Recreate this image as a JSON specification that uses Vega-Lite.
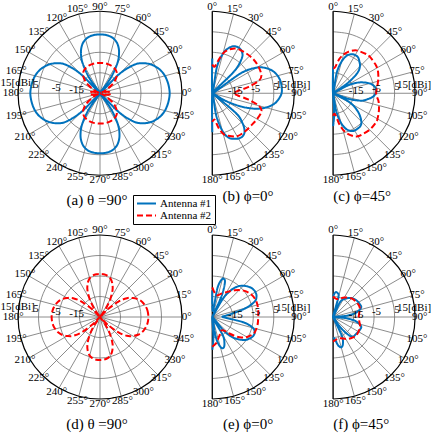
{
"$schema": "https://vega.github.io/schema/vega-lite/v6.json",
"padding": 0,
"background": "white",
"config": {"view": {"stroke": null}, "title": {"font": "Liberation Serif, Times New Roman, serif", "fontSize": 15, "fontWeight": "normal", "color": "black", "orient": "bottom", "anchor": "middle"}, "text": {"font": "Liberation Serif, Times New Roman, serif", "fontSize": 11, "color": "black"}},
"columns": 3,
"align": "each",
"bounds": "flush",
"spacing": {"row": 38.75, "column": 8},
"resolve": {"scale": {"color": "shared", "strokeDash": "shared"}, "legend": {"color": "shared", "strokeDash": "shared"}},
"datasets": {"d": [
{"k":"g","r":-15,"a":0},{"k":"g","r":-15,"a":15},{"k":"g","r":-15,"a":30},{"k":"g","r":-15,"a":45},{"k":"g","r":-15,"a":60},{"k":"g","r":-15,"a":75},{"k":"g","r":-15,"a":90},{"k":"g","r":-15,"a":105},{"k":"g","r":-15,"a":120},{"k":"g","r":-15,"a":135},{"k":"g","r":-15,"a":150},{"k":"g","r":-15,"a":165},{"k":"g","r":-15,"a":180},{"k":"g","r":-15,"a":195},{"k":"g","r":-15,"a":210},{"k":"g","r":-15,"a":225},{"k":"g","r":-15,"a":240},{"k":"g","r":-15,"a":255},{"k":"g","r":-15,"a":270},{"k":"g","r":-15,"a":285},{"k":"g","r":-15,"a":300},{"k":"g","r":-15,"a":315},{"k":"g","r":-15,"a":330},{"k":"g","r":-15,"a":345},
{"k":"g","r":-5,"a":0},{"k":"g","r":-5,"a":15},{"k":"g","r":-5,"a":30},{"k":"g","r":-5,"a":45},{"k":"g","r":-5,"a":60},{"k":"g","r":-5,"a":75},{"k":"g","r":-5,"a":90},{"k":"g","r":-5,"a":105},{"k":"g","r":-5,"a":120},{"k":"g","r":-5,"a":135},{"k":"g","r":-5,"a":150},{"k":"g","r":-5,"a":165},{"k":"g","r":-5,"a":180},{"k":"g","r":-5,"a":195},{"k":"g","r":-5,"a":210},{"k":"g","r":-5,"a":225},{"k":"g","r":-5,"a":240},{"k":"g","r":-5,"a":255},{"k":"g","r":-5,"a":270},{"k":"g","r":-5,"a":285},{"k":"g","r":-5,"a":300},{"k":"g","r":-5,"a":315},{"k":"g","r":-5,"a":330},{"k":"g","r":-5,"a":345},
{"k":"g","r":5,"a":0},{"k":"g","r":5,"a":15},{"k":"g","r":5,"a":30},{"k":"g","r":5,"a":45},{"k":"g","r":5,"a":60},{"k":"g","r":5,"a":75},{"k":"g","r":5,"a":90},{"k":"g","r":5,"a":105},{"k":"g","r":5,"a":120},{"k":"g","r":5,"a":135},{"k":"g","r":5,"a":150},{"k":"g","r":5,"a":165},{"k":"g","r":5,"a":180},{"k":"g","r":5,"a":195},{"k":"g","r":5,"a":210},{"k":"g","r":5,"a":225},{"k":"g","r":5,"a":240},{"k":"g","r":5,"a":255},{"k":"g","r":5,"a":270},{"k":"g","r":5,"a":285},{"k":"g","r":5,"a":300},{"k":"g","r":5,"a":315},{"k":"g","r":5,"a":330},{"k":"g","r":5,"a":345},
{"k":"g","r":15,"a":0},{"k":"g","r":15,"a":15},{"k":"g","r":15,"a":30},{"k":"g","r":15,"a":45},{"k":"g","r":15,"a":60},{"k":"g","r":15,"a":75},{"k":"g","r":15,"a":90},{"k":"g","r":15,"a":105},{"k":"g","r":15,"a":120},{"k":"g","r":15,"a":135},{"k":"g","r":15,"a":150},{"k":"g","r":15,"a":165},{"k":"g","r":15,"a":180},{"k":"g","r":15,"a":195},{"k":"g","r":15,"a":210},{"k":"g","r":15,"a":225},{"k":"g","r":15,"a":240},{"k":"g","r":15,"a":255},{"k":"g","r":15,"a":270},{"k":"g","r":15,"a":285},{"k":"g","r":15,"a":300},{"k":"g","r":15,"a":315},{"k":"g","r":15,"a":330},{"k":"g","r":15,"a":345},
{"k":"t","r":-15,"t":"-15"},{"k":"t","r":-5,"t":"-5"},{"k":"t","r":5,"t":"5"},{"k":"t","r":15,"t":"15[dBi]"},
{"k":"p","p":"a","s":"Antenna #1","a":0,"r":9},{"k":"p","p":"a","s":"Antenna #1","a":5,"r":8.8},{"k":"p","p":"a","s":"Antenna #1","a":10,"r":8.4},{"k":"p","p":"a","s":"Antenna #1","a":15,"r":7.8},{"k":"p","p":"a","s":"Antenna #1","a":20,"r":6.8},{"k":"p","p":"a","s":"Antenna #1","a":25,"r":5.3},{"k":"p","p":"a","s":"Antenna #1","a":30,"r":3.3},{"k":"p","p":"a","s":"Antenna #1","a":35,"r":0.5},{"k":"p","p":"a","s":"Antenna #1","a":40,"r":-3.5},{"k":"p","p":"a","s":"Antenna #1","a":45,"r":-12},{"k":"p","p":"a","s":"Antenna #1","a":50,"r":-25},{"k":"p","p":"a","s":"Antenna #1","a":55,"r":-16},{"k":"p","p":"a","s":"Antenna #1","a":60,"r":-8},{"k":"p","p":"a","s":"Antenna #1","a":65,"r":-3},{"k":"p","p":"a","s":"Antenna #1","a":70,"r":0.3},{"k":"p","p":"a","s":"Antenna #1","a":75,"r":2.2},{"k":"p","p":"a","s":"Antenna #1","a":80,"r":3.2},{"k":"p","p":"a","s":"Antenna #1","a":85,"r":3.6},{"k":"p","p":"a","s":"Antenna #1","a":90,"r":3.7},
{"k":"p","p":"a","s":"Antenna #1","a":95,"r":3.6},{"k":"p","p":"a","s":"Antenna #1","a":100,"r":3.2},{"k":"p","p":"a","s":"Antenna #1","a":105,"r":2.2},{"k":"p","p":"a","s":"Antenna #1","a":110,"r":0.3},{"k":"p","p":"a","s":"Antenna #1","a":115,"r":-3},{"k":"p","p":"a","s":"Antenna #1","a":120,"r":-8},{"k":"p","p":"a","s":"Antenna #1","a":125,"r":-16},{"k":"p","p":"a","s":"Antenna #1","a":130,"r":-25},{"k":"p","p":"a","s":"Antenna #1","a":135,"r":-12},{"k":"p","p":"a","s":"Antenna #1","a":140,"r":-3.5},{"k":"p","p":"a","s":"Antenna #1","a":145,"r":0.5},{"k":"p","p":"a","s":"Antenna #1","a":150,"r":3.3},{"k":"p","p":"a","s":"Antenna #1","a":155,"r":5.3},{"k":"p","p":"a","s":"Antenna #1","a":160,"r":6.8},{"k":"p","p":"a","s":"Antenna #1","a":165,"r":7.8},{"k":"p","p":"a","s":"Antenna #1","a":170,"r":8.4},{"k":"p","p":"a","s":"Antenna #1","a":175,"r":8.8},{"k":"p","p":"a","s":"Antenna #1","a":180,"r":9},
{"k":"p","p":"a","s":"Antenna #1","a":185,"r":8.8},{"k":"p","p":"a","s":"Antenna #1","a":190,"r":8.4},{"k":"p","p":"a","s":"Antenna #1","a":195,"r":7.8},{"k":"p","p":"a","s":"Antenna #1","a":200,"r":6.8},{"k":"p","p":"a","s":"Antenna #1","a":205,"r":5.3},{"k":"p","p":"a","s":"Antenna #1","a":210,"r":3.3},{"k":"p","p":"a","s":"Antenna #1","a":215,"r":0.5},{"k":"p","p":"a","s":"Antenna #1","a":220,"r":-3.5},{"k":"p","p":"a","s":"Antenna #1","a":225,"r":-12},{"k":"p","p":"a","s":"Antenna #1","a":230,"r":-25},{"k":"p","p":"a","s":"Antenna #1","a":235,"r":-15.8},{"k":"p","p":"a","s":"Antenna #1","a":240,"r":-7.6},{"k":"p","p":"a","s":"Antenna #1","a":245,"r":-2.5},{"k":"p","p":"a","s":"Antenna #1","a":250,"r":0.8},{"k":"p","p":"a","s":"Antenna #1","a":255,"r":2.8},{"k":"p","p":"a","s":"Antenna #1","a":260,"r":3.8},{"k":"p","p":"a","s":"Antenna #1","a":265,"r":4.2},{"k":"p","p":"a","s":"Antenna #1","a":270,"r":4.3},
{"k":"p","p":"a","s":"Antenna #1","a":275,"r":4.2},{"k":"p","p":"a","s":"Antenna #1","a":280,"r":3.8},{"k":"p","p":"a","s":"Antenna #1","a":285,"r":2.8},{"k":"p","p":"a","s":"Antenna #1","a":290,"r":0.8},{"k":"p","p":"a","s":"Antenna #1","a":295,"r":-2.5},{"k":"p","p":"a","s":"Antenna #1","a":300,"r":-7.6},{"k":"p","p":"a","s":"Antenna #1","a":305,"r":-15.8},{"k":"p","p":"a","s":"Antenna #1","a":310,"r":-25},{"k":"p","p":"a","s":"Antenna #1","a":315,"r":-12},{"k":"p","p":"a","s":"Antenna #1","a":320,"r":-3.5},{"k":"p","p":"a","s":"Antenna #1","a":325,"r":0.5},{"k":"p","p":"a","s":"Antenna #1","a":330,"r":3.3},{"k":"p","p":"a","s":"Antenna #1","a":335,"r":5.3},{"k":"p","p":"a","s":"Antenna #1","a":340,"r":6.8},{"k":"p","p":"a","s":"Antenna #1","a":345,"r":7.8},{"k":"p","p":"a","s":"Antenna #1","a":350,"r":8.4},{"k":"p","p":"a","s":"Antenna #1","a":355,"r":8.8},
{"k":"p","p":"a","s":"Antenna #2","a":0,"r":-20},{"k":"p","p":"a","s":"Antenna #2","a":5,"r":-20.2},{"k":"p","p":"a","s":"Antenna #2","a":10,"r":-21},{"k":"p","p":"a","s":"Antenna #2","a":15,"r":-22.5},{"k":"p","p":"a","s":"Antenna #2","a":20,"r":-24.5},{"k":"p","p":"a","s":"Antenna #2","a":25,"r":-23},{"k":"p","p":"a","s":"Antenna #2","a":30,"r":-21},{"k":"p","p":"a","s":"Antenna #2","a":35,"r":-18},{"k":"p","p":"a","s":"Antenna #2","a":40,"r":-15.5},{"k":"p","p":"a","s":"Antenna #2","a":45,"r":-13.5},{"k":"p","p":"a","s":"Antenna #2","a":50,"r":-12.2},{"k":"p","p":"a","s":"Antenna #2","a":55,"r":-11.4},{"k":"p","p":"a","s":"Antenna #2","a":60,"r":-10.9},{"k":"p","p":"a","s":"Antenna #2","a":65,"r":-10.6},{"k":"p","p":"a","s":"Antenna #2","a":70,"r":-10.4},{"k":"p","p":"a","s":"Antenna #2","a":75,"r":-10.3},{"k":"p","p":"a","s":"Antenna #2","a":80,"r":-10.2},{"k":"p","p":"a","s":"Antenna #2","a":85,"r":-10.2},{"k":"p","p":"a","s":"Antenna #2","a":90,"r":-10.2},
{"k":"p","p":"a","s":"Antenna #2","a":95,"r":-10.2},{"k":"p","p":"a","s":"Antenna #2","a":100,"r":-10.2},{"k":"p","p":"a","s":"Antenna #2","a":105,"r":-10.3},{"k":"p","p":"a","s":"Antenna #2","a":110,"r":-10.4},{"k":"p","p":"a","s":"Antenna #2","a":115,"r":-10.6},{"k":"p","p":"a","s":"Antenna #2","a":120,"r":-10.9},{"k":"p","p":"a","s":"Antenna #2","a":125,"r":-11.4},{"k":"p","p":"a","s":"Antenna #2","a":130,"r":-12.2},{"k":"p","p":"a","s":"Antenna #2","a":135,"r":-13.5},{"k":"p","p":"a","s":"Antenna #2","a":140,"r":-15.5},{"k":"p","p":"a","s":"Antenna #2","a":145,"r":-18},{"k":"p","p":"a","s":"Antenna #2","a":150,"r":-21},{"k":"p","p":"a","s":"Antenna #2","a":155,"r":-23},{"k":"p","p":"a","s":"Antenna #2","a":160,"r":-24.5},{"k":"p","p":"a","s":"Antenna #2","a":165,"r":-22.5},{"k":"p","p":"a","s":"Antenna #2","a":170,"r":-21},{"k":"p","p":"a","s":"Antenna #2","a":175,"r":-20.2},{"k":"p","p":"a","s":"Antenna #2","a":180,"r":-20},
{"k":"p","p":"a","s":"Antenna #2","a":185,"r":-20.2},{"k":"p","p":"a","s":"Antenna #2","a":190,"r":-21},{"k":"p","p":"a","s":"Antenna #2","a":195,"r":-22.5},{"k":"p","p":"a","s":"Antenna #2","a":200,"r":-24.5},{"k":"p","p":"a","s":"Antenna #2","a":205,"r":-23},{"k":"p","p":"a","s":"Antenna #2","a":210,"r":-21},{"k":"p","p":"a","s":"Antenna #2","a":215,"r":-18},{"k":"p","p":"a","s":"Antenna #2","a":220,"r":-15.5},{"k":"p","p":"a","s":"Antenna #2","a":225,"r":-13.5},{"k":"p","p":"a","s":"Antenna #2","a":230,"r":-12.2},{"k":"p","p":"a","s":"Antenna #2","a":235,"r":-11.4},{"k":"p","p":"a","s":"Antenna #2","a":240,"r":-10.9},{"k":"p","p":"a","s":"Antenna #2","a":245,"r":-10.6},{"k":"p","p":"a","s":"Antenna #2","a":250,"r":-10.4},{"k":"p","p":"a","s":"Antenna #2","a":255,"r":-10.3},{"k":"p","p":"a","s":"Antenna #2","a":260,"r":-10.2},{"k":"p","p":"a","s":"Antenna #2","a":265,"r":-10.2},{"k":"p","p":"a","s":"Antenna #2","a":270,"r":-10.2},
{"k":"p","p":"a","s":"Antenna #2","a":275,"r":-10.2},{"k":"p","p":"a","s":"Antenna #2","a":280,"r":-10.2},{"k":"p","p":"a","s":"Antenna #2","a":285,"r":-10.3},{"k":"p","p":"a","s":"Antenna #2","a":290,"r":-10.4},{"k":"p","p":"a","s":"Antenna #2","a":295,"r":-10.6},{"k":"p","p":"a","s":"Antenna #2","a":300,"r":-10.9},{"k":"p","p":"a","s":"Antenna #2","a":305,"r":-11.4},{"k":"p","p":"a","s":"Antenna #2","a":310,"r":-12.2},{"k":"p","p":"a","s":"Antenna #2","a":315,"r":-13.5},{"k":"p","p":"a","s":"Antenna #2","a":320,"r":-15.5},{"k":"p","p":"a","s":"Antenna #2","a":325,"r":-18},{"k":"p","p":"a","s":"Antenna #2","a":330,"r":-21},{"k":"p","p":"a","s":"Antenna #2","a":335,"r":-23},{"k":"p","p":"a","s":"Antenna #2","a":340,"r":-24.5},{"k":"p","p":"a","s":"Antenna #2","a":345,"r":-22.5},{"k":"p","p":"a","s":"Antenna #2","a":350,"r":-21},{"k":"p","p":"a","s":"Antenna #2","a":355,"r":-20.2},
{"k":"p","p":"d","s":"Antenna #2","a":0,"r":-1.4},{"k":"p","p":"d","s":"Antenna #2","a":5,"r":-1.5},{"k":"p","p":"d","s":"Antenna #2","a":10,"r":-1.8},{"k":"p","p":"d","s":"Antenna #2","a":15,"r":-2.4},{"k":"p","p":"d","s":"Antenna #2","a":20,"r":-3.2},{"k":"p","p":"d","s":"Antenna #2","a":25,"r":-4.5},{"k":"p","p":"d","s":"Antenna #2","a":30,"r":-6.5},{"k":"p","p":"d","s":"Antenna #2","a":35,"r":-9},{"k":"p","p":"d","s":"Antenna #2","a":40,"r":-13.5},{"k":"p","p":"d","s":"Antenna #2","a":45,"r":-20},{"k":"p","p":"d","s":"Antenna #2","a":50,"r":-25},{"k":"p","p":"d","s":"Antenna #2","a":55,"r":-20},{"k":"p","p":"d","s":"Antenna #2","a":60,"r":-15},{"k":"p","p":"d","s":"Antenna #2","a":65,"r":-10.5},{"k":"p","p":"d","s":"Antenna #2","a":70,"r":-7.5},{"k":"p","p":"d","s":"Antenna #2","a":75,"r":-5.5},{"k":"p","p":"d","s":"Antenna #2","a":80,"r":-4.5},{"k":"p","p":"d","s":"Antenna #2","a":85,"r":-4.1},{"k":"p","p":"d","s":"Antenna #2","a":90,"r":-4},
{"k":"p","p":"d","s":"Antenna #2","a":95,"r":-4.1},{"k":"p","p":"d","s":"Antenna #2","a":100,"r":-4.5},{"k":"p","p":"d","s":"Antenna #2","a":105,"r":-5.5},{"k":"p","p":"d","s":"Antenna #2","a":110,"r":-7.5},{"k":"p","p":"d","s":"Antenna #2","a":115,"r":-10.5},{"k":"p","p":"d","s":"Antenna #2","a":120,"r":-15},{"k":"p","p":"d","s":"Antenna #2","a":125,"r":-20},{"k":"p","p":"d","s":"Antenna #2","a":130,"r":-25},{"k":"p","p":"d","s":"Antenna #2","a":135,"r":-20},{"k":"p","p":"d","s":"Antenna #2","a":140,"r":-13.5},{"k":"p","p":"d","s":"Antenna #2","a":145,"r":-9},{"k":"p","p":"d","s":"Antenna #2","a":150,"r":-6.5},{"k":"p","p":"d","s":"Antenna #2","a":155,"r":-4.5},{"k":"p","p":"d","s":"Antenna #2","a":160,"r":-3.2},{"k":"p","p":"d","s":"Antenna #2","a":165,"r":-2.4},{"k":"p","p":"d","s":"Antenna #2","a":170,"r":-1.8},{"k":"p","p":"d","s":"Antenna #2","a":175,"r":-1.5},{"k":"p","p":"d","s":"Antenna #2","a":180,"r":-1.4},
{"k":"p","p":"d","s":"Antenna #2","a":185,"r":-1.5},{"k":"p","p":"d","s":"Antenna #2","a":190,"r":-1.8},{"k":"p","p":"d","s":"Antenna #2","a":195,"r":-2.4},{"k":"p","p":"d","s":"Antenna #2","a":200,"r":-3.2},{"k":"p","p":"d","s":"Antenna #2","a":205,"r":-4.5},{"k":"p","p":"d","s":"Antenna #2","a":210,"r":-6.5},{"k":"p","p":"d","s":"Antenna #2","a":215,"r":-9},{"k":"p","p":"d","s":"Antenna #2","a":220,"r":-13.5},{"k":"p","p":"d","s":"Antenna #2","a":225,"r":-20},{"k":"p","p":"d","s":"Antenna #2","a":230,"r":-25},{"k":"p","p":"d","s":"Antenna #2","a":235,"r":-20},{"k":"p","p":"d","s":"Antenna #2","a":240,"r":-15},{"k":"p","p":"d","s":"Antenna #2","a":245,"r":-10.5},{"k":"p","p":"d","s":"Antenna #2","a":250,"r":-7.5},{"k":"p","p":"d","s":"Antenna #2","a":255,"r":-5.5},{"k":"p","p":"d","s":"Antenna #2","a":260,"r":-4.5},{"k":"p","p":"d","s":"Antenna #2","a":265,"r":-4.1},{"k":"p","p":"d","s":"Antenna #2","a":270,"r":-4},
{"k":"p","p":"d","s":"Antenna #2","a":275,"r":-4.1},{"k":"p","p":"d","s":"Antenna #2","a":280,"r":-4.5},{"k":"p","p":"d","s":"Antenna #2","a":285,"r":-5.5},{"k":"p","p":"d","s":"Antenna #2","a":290,"r":-7.5},{"k":"p","p":"d","s":"Antenna #2","a":295,"r":-10.5},{"k":"p","p":"d","s":"Antenna #2","a":300,"r":-15},{"k":"p","p":"d","s":"Antenna #2","a":305,"r":-20},{"k":"p","p":"d","s":"Antenna #2","a":310,"r":-25},{"k":"p","p":"d","s":"Antenna #2","a":315,"r":-20},{"k":"p","p":"d","s":"Antenna #2","a":320,"r":-13.5},{"k":"p","p":"d","s":"Antenna #2","a":325,"r":-9},{"k":"p","p":"d","s":"Antenna #2","a":330,"r":-6.5},{"k":"p","p":"d","s":"Antenna #2","a":335,"r":-4.5},{"k":"p","p":"d","s":"Antenna #2","a":340,"r":-3.2},{"k":"p","p":"d","s":"Antenna #2","a":345,"r":-2.4},{"k":"p","p":"d","s":"Antenna #2","a":350,"r":-1.8},{"k":"p","p":"d","s":"Antenna #2","a":355,"r":-1.5},
{"k":"p","p":"b","s":"Antenna #1","a":0,"r":-8},{"k":"p","p":"b","s":"Antenna #1","a":5,"r":-25},{"k":"p","p":"b","s":"Antenna #1","a":10,"r":-12},{"k":"p","p":"b","s":"Antenna #1","a":15,"r":-5},{"k":"p","p":"b","s":"Antenna #1","a":20,"r":-1.5},{"k":"p","p":"b","s":"Antenna #1","a":25,"r":0.3},{"k":"p","p":"b","s":"Antenna #1","a":30,"r":0.7},{"k":"p","p":"b","s":"Antenna #1","a":35,"r":0},{"k":"p","p":"b","s":"Antenna #1","a":40,"r":-2.5},{"k":"p","p":"b","s":"Antenna #1","a":45,"r":-10},{"k":"p","p":"b","s":"Antenna #1","a":50,"r":-25},{"k":"p","p":"b","s":"Antenna #1","a":55,"r":-8},{"k":"p","p":"b","s":"Antenna #1","a":60,"r":0},{"k":"p","p":"b","s":"Antenna #1","a":65,"r":4},{"k":"p","p":"b","s":"Antenna #1","a":70,"r":6.5},{"k":"p","p":"b","s":"Antenna #1","a":75,"r":8},{"k":"p","p":"b","s":"Antenna #1","a":80,"r":8.8},{"k":"p","p":"b","s":"Antenna #1","a":85,"r":9},{"k":"p","p":"b","s":"Antenna #1","a":90,"r":8.8},{"k":"p","p":"b","s":"Antenna #1","a":95,"r":7.5},{"k":"p","p":"b","s":"Antenna #1","a":100,"r":5.5},{"k":"p","p":"b","s":"Antenna #1","a":105,"r":2},{"k":"p","p":"b","s":"Antenna #1","a":110,"r":-3},{"k":"p","p":"b","s":"Antenna #1","a":115,"r":-10},{"k":"p","p":"b","s":"Antenna #1","a":120,"r":-18},{"k":"p","p":"b","s":"Antenna #1","a":125,"r":-25},{"k":"p","p":"b","s":"Antenna #1","a":130,"r":-10},{"k":"p","p":"b","s":"Antenna #1","a":135,"r":-4},{"k":"p","p":"b","s":"Antenna #1","a":140,"r":-0.5},{"k":"p","p":"b","s":"Antenna #1","a":145,"r":0.7},{"k":"p","p":"b","s":"Antenna #1","a":150,"r":0.5},{"k":"p","p":"b","s":"Antenna #1","a":155,"r":-0.5},{"k":"p","p":"b","s":"Antenna #1","a":160,"r":-2},{"k":"p","p":"b","s":"Antenna #1","a":165,"r":-6},{"k":"p","p":"b","s":"Antenna #1","a":170,"r":-14},{"k":"p","p":"b","s":"Antenna #1","a":175,"r":-25},{"k":"p","p":"b","s":"Antenna #1","a":180,"r":-6},
{"k":"p","p":"b","s":"Antenna #2","a":0,"r":-11},{"k":"p","p":"b","s":"Antenna #2","a":5,"r":-12},{"k":"p","p":"b","s":"Antenna #2","a":10,"r":-9},{"k":"p","p":"b","s":"Antenna #2","a":15,"r":-5},{"k":"p","p":"b","s":"Antenna #2","a":20,"r":-2.5},{"k":"p","p":"b","s":"Antenna #2","a":25,"r":-1},{"k":"p","p":"b","s":"Antenna #2","a":30,"r":0},{"k":"p","p":"b","s":"Antenna #2","a":40,"r":0.5},{"k":"p","p":"b","s":"Antenna #2","a":50,"r":1},{"k":"p","p":"b","s":"Antenna #2","a":60,"r":1},{"k":"p","p":"b","s":"Antenna #2","a":70,"r":0.5},{"k":"p","p":"b","s":"Antenna #2","a":75,"r":-1.5},{"k":"p","p":"b","s":"Antenna #2","a":80,"r":-7},{"k":"p","p":"b","s":"Antenna #2","a":85,"r":-12.5},{"k":"p","p":"b","s":"Antenna #2","a":90,"r":-14.5},{"k":"p","p":"b","s":"Antenna #2","a":95,"r":-12.5},{"k":"p","p":"b","s":"Antenna #2","a":100,"r":-7},{"k":"p","p":"b","s":"Antenna #2","a":105,"r":-1.5},{"k":"p","p":"b","s":"Antenna #2","a":110,"r":0.6},{"k":"p","p":"b","s":"Antenna #2","a":120,"r":0.2},{"k":"p","p":"b","s":"Antenna #2","a":130,"r":-0.4},{"k":"p","p":"b","s":"Antenna #2","a":140,"r":-0.5},{"k":"p","p":"b","s":"Antenna #2","a":150,"r":-0.8},{"k":"p","p":"b","s":"Antenna #2","a":160,"r":-3},{"k":"p","p":"b","s":"Antenna #2","a":165,"r":-4.5},{"k":"p","p":"b","s":"Antenna #2","a":170,"r":-8},{"k":"p","p":"b","s":"Antenna #2","a":175,"r":-12},{"k":"p","p":"b","s":"Antenna #2","a":180,"r":-11},
{"k":"p","p":"c","s":"Antenna #1","a":0,"r":-12},{"k":"p","p":"c","s":"Antenna #1","a":5,"r":-25},{"k":"p","p":"c","s":"Antenna #1","a":10,"r":-15},{"k":"p","p":"c","s":"Antenna #1","a":15,"r":-9},{"k":"p","p":"c","s":"Antenna #1","a":20,"r":-5.5},{"k":"p","p":"c","s":"Antenna #1","a":25,"r":-4},{"k":"p","p":"c","s":"Antenna #1","a":30,"r":-3.5},{"k":"p","p":"c","s":"Antenna #1","a":35,"r":-3.7},{"k":"p","p":"c","s":"Antenna #1","a":40,"r":-5},{"k":"p","p":"c","s":"Antenna #1","a":45,"r":-6.5},{"k":"p","p":"c","s":"Antenna #1","a":50,"r":-9.5},{"k":"p","p":"c","s":"Antenna #1","a":55,"r":-16},{"k":"p","p":"c","s":"Antenna #1","a":58,"r":-25},{"k":"p","p":"c","s":"Antenna #1","a":62,"r":-17},{"k":"p","p":"c","s":"Antenna #1","a":66,"r":-12.5},{"k":"p","p":"c","s":"Antenna #1","a":70,"r":-9.5},{"k":"p","p":"c","s":"Antenna #1","a":75,"r":-6.5},{"k":"p","p":"c","s":"Antenna #1","a":80,"r":-4.7},{"k":"p","p":"c","s":"Antenna #1","a":85,"r":-4},{"k":"p","p":"c","s":"Antenna #1","a":90,"r":-4.2},{"k":"p","p":"c","s":"Antenna #1","a":95,"r":-5.5},{"k":"p","p":"c","s":"Antenna #1","a":100,"r":-8},{"k":"p","p":"c","s":"Antenna #1","a":105,"r":-11},{"k":"p","p":"c","s":"Antenna #1","a":110,"r":-17},{"k":"p","p":"c","s":"Antenna #1","a":114,"r":-25},{"k":"p","p":"c","s":"Antenna #1","a":118,"r":-17},{"k":"p","p":"c","s":"Antenna #1","a":122,"r":-13},{"k":"p","p":"c","s":"Antenna #1","a":128,"r":-9},{"k":"p","p":"c","s":"Antenna #1","a":135,"r":-5.5},{"k":"p","p":"c","s":"Antenna #1","a":140,"r":-4.2},{"k":"p","p":"c","s":"Antenna #1","a":145,"r":-4},{"k":"p","p":"c","s":"Antenna #1","a":150,"r":-4},{"k":"p","p":"c","s":"Antenna #1","a":155,"r":-4.7},{"k":"p","p":"c","s":"Antenna #1","a":160,"r":-6.5},{"k":"p","p":"c","s":"Antenna #1","a":165,"r":-10},{"k":"p","p":"c","s":"Antenna #1","a":170,"r":-16},{"k":"p","p":"c","s":"Antenna #1","a":174,"r":-25},{"k":"p","p":"c","s":"Antenna #1","a":177,"r":-15},{"k":"p","p":"c","s":"Antenna #1","a":180,"r":-9},
{"k":"p","p":"c","s":"Antenna #2","a":0,"r":-13},{"k":"p","p":"c","s":"Antenna #2","a":5,"r":-12},{"k":"p","p":"c","s":"Antenna #2","a":10,"r":-8.2},{"k":"p","p":"c","s":"Antenna #2","a":15,"r":-5.5},{"k":"p","p":"c","s":"Antenna #2","a":20,"r":-3.5},{"k":"p","p":"c","s":"Antenna #2","a":25,"r":-2},{"k":"p","p":"c","s":"Antenna #2","a":30,"r":-1},{"k":"p","p":"c","s":"Antenna #2","a":40,"r":0},{"k":"p","p":"c","s":"Antenna #2","a":45,"r":0.3},{"k":"p","p":"c","s":"Antenna #2","a":55,"r":0},{"k":"p","p":"c","s":"Antenna #2","a":62,"r":-0.4},{"k":"p","p":"c","s":"Antenna #2","a":70,"r":-1.5},{"k":"p","p":"c","s":"Antenna #2","a":80,"r":-3},{"k":"p","p":"c","s":"Antenna #2","a":85,"r":-3.7},{"k":"p","p":"c","s":"Antenna #2","a":90,"r":-4},{"k":"p","p":"c","s":"Antenna #2","a":95,"r":-3.5},{"k":"p","p":"c","s":"Antenna #2","a":100,"r":-2.5},{"k":"p","p":"c","s":"Antenna #2","a":110,"r":-1.2},{"k":"p","p":"c","s":"Antenna #2","a":120,"r":0},{"k":"p","p":"c","s":"Antenna #2","a":125,"r":0.3},{"k":"p","p":"c","s":"Antenna #2","a":135,"r":0.2},{"k":"p","p":"c","s":"Antenna #2","a":145,"r":-0.4},{"k":"p","p":"c","s":"Antenna #2","a":150,"r":-0.8},{"k":"p","p":"c","s":"Antenna #2","a":155,"r":-2},{"k":"p","p":"c","s":"Antenna #2","a":162,"r":-4.8},{"k":"p","p":"c","s":"Antenna #2","a":168,"r":-9},{"k":"p","p":"c","s":"Antenna #2","a":173,"r":-14},{"k":"p","p":"c","s":"Antenna #2","a":177,"r":-15},{"k":"p","p":"c","s":"Antenna #2","a":180,"r":-14},
{"k":"p","p":"e","s":"Antenna #1","a":0,"r":-12},{"k":"p","p":"e","s":"Antenna #1","a":5,"r":-22},{"k":"p","p":"e","s":"Antenna #1","a":10,"r":-11},{"k":"p","p":"e","s":"Antenna #1","a":13,"r":-7},{"k":"p","p":"e","s":"Antenna #1","a":16,"r":-5.5},{"k":"p","p":"e","s":"Antenna #1","a":20,"r":-7},{"k":"p","p":"e","s":"Antenna #1","a":24,"r":-14},{"k":"p","p":"e","s":"Antenna #1","a":27,"r":-25},{"k":"p","p":"e","s":"Antenna #1","a":30,"r":-15},{"k":"p","p":"e","s":"Antenna #1","a":35,"r":-9},{"k":"p","p":"e","s":"Antenna #1","a":40,"r":-5.5},{"k":"p","p":"e","s":"Antenna #1","a":45,"r":-3.5},{"k":"p","p":"e","s":"Antenna #1","a":50,"r":-2},{"k":"p","p":"e","s":"Antenna #1","a":55,"r":-1},{"k":"p","p":"e","s":"Antenna #1","a":60,"r":-0.7},{"k":"p","p":"e","s":"Antenna #1","a":65,"r":-1.2},{"k":"p","p":"e","s":"Antenna #1","a":70,"r":-3},{"k":"p","p":"e","s":"Antenna #1","a":75,"r":-8},{"k":"p","p":"e","s":"Antenna #1","a":80,"r":-15},{"k":"p","p":"e","s":"Antenna #1","a":85,"r":-19},{"k":"p","p":"e","s":"Antenna #1","a":90,"r":-20},{"k":"p","p":"e","s":"Antenna #1","a":95,"r":-17},{"k":"p","p":"e","s":"Antenna #1","a":100,"r":-9},{"k":"p","p":"e","s":"Antenna #1","a":105,"r":-4.5},{"k":"p","p":"e","s":"Antenna #1","a":110,"r":-3},{"k":"p","p":"e","s":"Antenna #1","a":115,"r":-3},{"k":"p","p":"e","s":"Antenna #1","a":120,"r":-4},{"k":"p","p":"e","s":"Antenna #1","a":125,"r":-5.5},{"k":"p","p":"e","s":"Antenna #1","a":130,"r":-8},{"k":"p","p":"e","s":"Antenna #1","a":135,"r":-11},{"k":"p","p":"e","s":"Antenna #1","a":140,"r":-16},{"k":"p","p":"e","s":"Antenna #1","a":145,"r":-25},{"k":"p","p":"e","s":"Antenna #1","a":150,"r":-15},{"k":"p","p":"e","s":"Antenna #1","a":155,"r":-11},{"k":"p","p":"e","s":"Antenna #1","a":160,"r":-9},{"k":"p","p":"e","s":"Antenna #1","a":165,"r":-10},{"k":"p","p":"e","s":"Antenna #1","a":170,"r":-15},{"k":"p","p":"e","s":"Antenna #1","a":174,"r":-25},{"k":"p","p":"e","s":"Antenna #1","a":177,"r":-15},{"k":"p","p":"e","s":"Antenna #1","a":180,"r":-9},
{"k":"p","p":"e","s":"Antenna #2","a":0,"r":-10.5},{"k":"p","p":"e","s":"Antenna #2","a":5,"r":-13},{"k":"p","p":"e","s":"Antenna #2","a":10,"r":-14},{"k":"p","p":"e","s":"Antenna #2","a":15,"r":-14},{"k":"p","p":"e","s":"Antenna #2","a":20,"r":-13},{"k":"p","p":"e","s":"Antenna #2","a":30,"r":-11},{"k":"p","p":"e","s":"Antenna #2","a":40,"r":-8},{"k":"p","p":"e","s":"Antenna #2","a":50,"r":-5},{"k":"p","p":"e","s":"Antenna #2","a":60,"r":-3},{"k":"p","p":"e","s":"Antenna #2","a":70,"r":-2.2},{"k":"p","p":"e","s":"Antenna #2","a":80,"r":-2.3},{"k":"p","p":"e","s":"Antenna #2","a":90,"r":-2.6},{"k":"p","p":"e","s":"Antenna #2","a":100,"r":-2.6},{"k":"p","p":"e","s":"Antenna #2","a":110,"r":-3},{"k":"p","p":"e","s":"Antenna #2","a":115,"r":-4},{"k":"p","p":"e","s":"Antenna #2","a":120,"r":-5.5},{"k":"p","p":"e","s":"Antenna #2","a":125,"r":-7.5},{"k":"p","p":"e","s":"Antenna #2","a":130,"r":-10.5},{"k":"p","p":"e","s":"Antenna #2","a":135,"r":-14},{"k":"p","p":"e","s":"Antenna #2","a":140,"r":-16.5},{"k":"p","p":"e","s":"Antenna #2","a":148,"r":-17},{"k":"p","p":"e","s":"Antenna #2","a":155,"r":-16},{"k":"p","p":"e","s":"Antenna #2","a":165,"r":-14},{"k":"p","p":"e","s":"Antenna #2","a":172,"r":-12},{"k":"p","p":"e","s":"Antenna #2","a":180,"r":-10.5},
{"k":"p","p":"f","s":"Antenna #1","a":0,"r":-15},{"k":"p","p":"f","s":"Antenna #1","a":5,"r":-13},{"k":"p","p":"f","s":"Antenna #1","a":10,"r":-13},{"k":"p","p":"f","s":"Antenna #1","a":15,"r":-15},{"k":"p","p":"f","s":"Antenna #1","a":20,"r":-25},{"k":"p","p":"f","s":"Antenna #1","a":25,"r":-17},{"k":"p","p":"f","s":"Antenna #1","a":35,"r":-14},{"k":"p","p":"f","s":"Antenna #1","a":45,"r":-12},{"k":"p","p":"f","s":"Antenna #1","a":55,"r":-11},{"k":"p","p":"f","s":"Antenna #1","a":65,"r":-10.5},{"k":"p","p":"f","s":"Antenna #1","a":72,"r":-10.7},{"k":"p","p":"f","s":"Antenna #1","a":80,"r":-14},{"k":"p","p":"f","s":"Antenna #1","a":85,"r":-19},{"k":"p","p":"f","s":"Antenna #1","a":90,"r":-25},{"k":"p","p":"f","s":"Antenna #1","a":95,"r":-19},{"k":"p","p":"f","s":"Antenna #1","a":100,"r":-14},{"k":"p","p":"f","s":"Antenna #1","a":108,"r":-10.7},{"k":"p","p":"f","s":"Antenna #1","a":115,"r":-10.5},{"k":"p","p":"f","s":"Antenna #1","a":125,"r":-11},{"k":"p","p":"f","s":"Antenna #1","a":135,"r":-11.5},{"k":"p","p":"f","s":"Antenna #1","a":140,"r":-14},{"k":"p","p":"f","s":"Antenna #1","a":145,"r":-19},{"k":"p","p":"f","s":"Antenna #1","a":150,"r":-25},{"k":"p","p":"f","s":"Antenna #1","a":155,"r":-15},{"k":"p","p":"f","s":"Antenna #1","a":160,"r":-11},{"k":"p","p":"f","s":"Antenna #1","a":165,"r":-9.7},{"k":"p","p":"f","s":"Antenna #1","a":170,"r":-11},{"k":"p","p":"f","s":"Antenna #1","a":175,"r":-14},{"k":"p","p":"f","s":"Antenna #1","a":180,"r":-15},
{"k":"p","p":"f","s":"Antenna #2","a":0,"r":-15},{"k":"p","p":"f","s":"Antenna #2","a":10,"r":-16},{"k":"p","p":"f","s":"Antenna #2","a":20,"r":-15.5},{"k":"p","p":"f","s":"Antenna #2","a":30,"r":-14},{"k":"p","p":"f","s":"Antenna #2","a":45,"r":-12.2},{"k":"p","p":"f","s":"Antenna #2","a":60,"r":-11.4},{"k":"p","p":"f","s":"Antenna #2","a":70,"r":-11.2},{"k":"p","p":"f","s":"Antenna #2","a":80,"r":-12},{"k":"p","p":"f","s":"Antenna #2","a":90,"r":-12.5},{"k":"p","p":"f","s":"Antenna #2","a":100,"r":-12},{"k":"p","p":"f","s":"Antenna #2","a":110,"r":-11},{"k":"p","p":"f","s":"Antenna #2","a":120,"r":-10.7},{"k":"p","p":"f","s":"Antenna #2","a":130,"r":-10.6},{"k":"p","p":"f","s":"Antenna #2","a":140,"r":-11.5},{"k":"p","p":"f","s":"Antenna #2","a":150,"r":-12.6},{"k":"p","p":"f","s":"Antenna #2","a":160,"r":-14},{"k":"p","p":"f","s":"Antenna #2","a":170,"r":-14},{"k":"p","p":"f","s":"Antenna #2","a":180,"r":-13}
]},
"concat": [
{"width": 200, "height": 184.5, "title": {"text": "(a) θ =90°", "offset": 7, "dx": -3},
 "data": {"name": "d"},
 "transform": [{"filter": "datum.k != 'p' || datum.p == 'a'"}, {"calculate": "datum.k == 't' ? (datum.r == 15 ? 40.5 : datum.r + 26.5) : max(0, datum.r + 25)", "as": "rho"}, {"calculate": "(datum.k == 't' ? 173 : datum.a) * PI / 180", "as": "th"}, {"calculate": "datum.rho * cos(datum.th)", "as": "x"}, {"calculate": "datum.rho * sin(datum.th)", "as": "y"}, {"calculate": "42.3 * cos(datum.th)", "as": "lx"}, {"calculate": "42.3 * sin(datum.th)", "as": "ly"}, {"calculate": "datum.a + '°'", "as": "lbl"}],
 "encoding": {"x": {"field": "x", "type": "quantitative", "scale": {"domain": [-48.8, 48.8]}, "axis": null}, "y": {"field": "y", "type": "quantitative", "scale": {"domain": [-45, 45]}, "axis": null}},
 "layer": [
  {"transform": [{"filter": "datum.k == 'g' && datum.r < 15"}], "mark": {"type": "line", "interpolate": "cardinal-closed", "stroke": "#6e6e6e", "strokeWidth": 0.8}, "encoding": {"detail": {"field": "r", "type": "nominal"}, "order": {"field": "a", "type": "quantitative"}}},
  {"transform": [{"filter": "datum.k == 'g' && datum.r == 15"}], "mark": {"type": "rule", "stroke": "#6e6e6e", "strokeWidth": 0.8}, "encoding": {"x2": {"datum": 0}, "y2": {"datum": 0}}},
  {"transform": [{"filter": "datum.k == 'g' && datum.r == 15"}], "mark": {"type": "line", "interpolate": "cardinal-closed", "stroke": "black", "strokeWidth": 1.2}, "encoding": {"order": {"field": "a", "type": "quantitative"}}},
  {"transform": [{"filter": "datum.k == 'p'"}], "mark": {"type": "line", "interpolate": "cardinal-closed", "strokeWidth": 2}, "encoding": {"order": {"field": "a", "type": "quantitative"},
    "color": {"field": "s", "type": "nominal", "scale": {"domain": ["Antenna #1", "Antenna #2"], "range": ["#0072BD", "#FF0000"]}, "legend": {"title": null, "orient": "none", "legendX": 133, "legendY": 194, "direction": "vertical", "strokeColor": "black", "fillColor": "white", "padding": 3, "symbolType": "stroke", "symbolStrokeWidth": 2, "symbolSize": 361, "clipHeight": 11, "labelFont": "Liberation Serif, Times New Roman, serif", "labelFontSize": 11, "labelColor": "black", "rowPadding": 0, "labelOffset": 3, "cornerRadius": 0}},
    "strokeDash": {"field": "s", "type": "nominal", "scale": {"domain": ["Antenna #1", "Antenna #2"], "range": [[1, 0], [6, 3]]}, "legend": {"title": null, "orient": "none", "legendX": 133, "legendY": 194, "direction": "vertical", "strokeColor": "black", "fillColor": "white", "padding": 3, "symbolType": "stroke", "symbolStrokeWidth": 2, "symbolSize": 361, "clipHeight": 11, "labelFont": "Liberation Serif, Times New Roman, serif", "labelFontSize": 11, "labelColor": "black", "rowPadding": 0, "labelOffset": 3, "cornerRadius": 0}}}},
  {"transform": [{"filter": "datum.k == 'g' && datum.r == 15"}], "mark": {"type": "text", "align": "center", "baseline": "middle"}, "encoding": {"x": {"field": "lx", "type": "quantitative", "scale": {"domain": [-48.8, 48.8]}, "axis": null}, "y": {"field": "ly", "type": "quantitative", "scale": {"domain": [-45, 45]}, "axis": null}, "text": {"field": "lbl", "type": "nominal"}}},
  {"transform": [{"filter": "datum.k == 't'"}], "mark": {"type": "text", "align": "center", "baseline": "middle"}, "encoding": {"text": {"field": "t", "type": "nominal"}}}
 ]},
{"width": 112.1, "height": 184.5, "title": {"text": "(b) ϕ=0°", "offset": 3, "dx": -16},
 "data": {"name": "d"},
 "transform": [{"filter": "(datum.k == 'g' && datum.a <= 180) || datum.k == 't' || datum.p == 'b'"}, {"calculate": "datum.k == 't' ? (datum.r == 15 ? 39.7 : datum.r + 26.3) : max(0, datum.r + 25)", "as": "rho"}, {"calculate": "(datum.k == 't' ? 84 : datum.a) * PI / 180", "as": "th"}, {"calculate": "datum.rho * sin(datum.th)", "as": "x"}, {"calculate": "datum.rho * cos(datum.th)", "as": "y"}, {"calculate": "42.3 * sin(datum.th)", "as": "lx"}, {"calculate": "42.3 * cos(datum.th)", "as": "ly"}, {"calculate": "datum.a + '°'", "as": "lbl"}],
 "encoding": {"x": {"field": "x", "type": "quantitative", "scale": {"domain": [-2.1, 52.6]}, "axis": null}, "y": {"field": "y", "type": "quantitative", "scale": {"domain": [-45, 45]}, "axis": null}},
 "layer": [
  {"transform": [{"filter": "datum.k == 'g' && datum.r < 15"}], "mark": {"type": "line", "interpolate": "cardinal", "stroke": "#6e6e6e", "strokeWidth": 0.8}, "encoding": {"detail": {"field": "r", "type": "nominal"}, "order": {"field": "a", "type": "quantitative"}}},
  {"transform": [{"filter": "datum.k == 'g' && datum.r == 15"}], "mark": {"type": "rule", "stroke": "#6e6e6e", "strokeWidth": 0.8}, "encoding": {"x2": {"datum": 0}, "y2": {"datum": 0}}},
  {"transform": [{"filter": "datum.k == 'g' && datum.r == 15"}], "mark": {"type": "line", "interpolate": "cardinal", "stroke": "black", "strokeWidth": 1.2}, "encoding": {"order": {"field": "a", "type": "quantitative"}}},
  {"transform": [{"filter": "datum.k == 'g' && datum.r == 15 && (datum.a == 0 || datum.a == 180)"}], "mark": {"type": "line", "stroke": "black", "strokeWidth": 1.2}, "encoding": {"order": {"field": "a", "type": "quantitative"}}},
  {"transform": [{"filter": "datum.k == 'p'"}], "mark": {"type": "line", "interpolate": "cardinal", "strokeWidth": 2}, "encoding": {"order": {"field": "a", "type": "quantitative"},
    "color": {"field": "s", "type": "nominal", "scale": {"domain": ["Antenna #1", "Antenna #2"], "range": ["#0072BD", "#FF0000"]}, "legend": {"title": null, "orient": "none", "legendX": 133, "legendY": 194, "direction": "vertical", "strokeColor": "black", "fillColor": "white", "padding": 3, "symbolType": "stroke", "symbolStrokeWidth": 2, "symbolSize": 361, "clipHeight": 11, "labelFont": "Liberation Serif, Times New Roman, serif", "labelFontSize": 11, "labelColor": "black", "rowPadding": 0, "labelOffset": 3, "cornerRadius": 0}},
    "strokeDash": {"field": "s", "type": "nominal", "scale": {"domain": ["Antenna #1", "Antenna #2"], "range": [[1, 0], [6, 3]]}, "legend": {"title": null, "orient": "none", "legendX": 133, "legendY": 194, "direction": "vertical", "strokeColor": "black", "fillColor": "white", "padding": 3, "symbolType": "stroke", "symbolStrokeWidth": 2, "symbolSize": 361, "clipHeight": 11, "labelFont": "Liberation Serif, Times New Roman, serif", "labelFontSize": 11, "labelColor": "black", "rowPadding": 0, "labelOffset": 3, "cornerRadius": 0}}}},
  {"transform": [{"filter": "datum.k == 'g' && datum.r == 15"}], "mark": {"type": "text", "align": "center", "baseline": "middle"}, "encoding": {"x": {"field": "lx", "type": "quantitative", "scale": {"domain": [-2.1, 52.6]}, "axis": null}, "y": {"field": "ly", "type": "quantitative", "scale": {"domain": [-45, 45]}, "axis": null}, "text": {"field": "lbl", "type": "nominal"}}},
  {"transform": [{"filter": "datum.k == 't'"}], "mark": {"type": "text", "align": "center", "baseline": "middle"}, "encoding": {"text": {"field": "t", "type": "nominal"}}}
 ]},
{"width": 100.45, "height": 184.5, "title": {"text": "(c) ϕ=45°", "offset": 3, "dx": -17},
 "data": {"name": "d"},
 "transform": [{"filter": "(datum.k == 'g' && datum.a <= 180) || datum.k == 't' || datum.p == 'c'"}, {"calculate": "datum.k == 't' ? (datum.r == 15 ? 39.7 : datum.r + 26.3) : max(0, datum.r + 25)", "as": "rho"}, {"calculate": "(datum.k == 't' ? 84 : datum.a) * PI / 180", "as": "th"}, {"calculate": "datum.rho * sin(datum.th)", "as": "x"}, {"calculate": "datum.rho * cos(datum.th)", "as": "y"}, {"calculate": "42.3 * sin(datum.th)", "as": "lx"}, {"calculate": "42.3 * cos(datum.th)", "as": "ly"}, {"calculate": "datum.a + '°'", "as": "lbl"}],
 "encoding": {"x": {"field": "x", "type": "quantitative", "scale": {"domain": [-2, 47]}, "axis": null}, "y": {"field": "y", "type": "quantitative", "scale": {"domain": [-45, 45]}, "axis": null}},
 "layer": [
  {"transform": [{"filter": "datum.k == 'g' && datum.r < 15"}], "mark": {"type": "line", "interpolate": "cardinal", "stroke": "#6e6e6e", "strokeWidth": 0.8}, "encoding": {"detail": {"field": "r", "type": "nominal"}, "order": {"field": "a", "type": "quantitative"}}},
  {"transform": [{"filter": "datum.k == 'g' && datum.r == 15"}], "mark": {"type": "rule", "stroke": "#6e6e6e", "strokeWidth": 0.8}, "encoding": {"x2": {"datum": 0}, "y2": {"datum": 0}}},
  {"transform": [{"filter": "datum.k == 'g' && datum.r == 15"}], "mark": {"type": "line", "interpolate": "cardinal", "stroke": "black", "strokeWidth": 1.2}, "encoding": {"order": {"field": "a", "type": "quantitative"}}},
  {"transform": [{"filter": "datum.k == 'g' && datum.r == 15 && (datum.a == 0 || datum.a == 180)"}], "mark": {"type": "line", "stroke": "black", "strokeWidth": 1.2}, "encoding": {"order": {"field": "a", "type": "quantitative"}}},
  {"transform": [{"filter": "datum.k == 'p'"}], "mark": {"type": "line", "interpolate": "cardinal", "strokeWidth": 2}, "encoding": {"order": {"field": "a", "type": "quantitative"},
    "color": {"field": "s", "type": "nominal", "scale": {"domain": ["Antenna #1", "Antenna #2"], "range": ["#0072BD", "#FF0000"]}, "legend": {"title": null, "orient": "none", "legendX": 133, "legendY": 194, "direction": "vertical", "strokeColor": "black", "fillColor": "white", "padding": 3, "symbolType": "stroke", "symbolStrokeWidth": 2, "symbolSize": 361, "clipHeight": 11, "labelFont": "Liberation Serif, Times New Roman, serif", "labelFontSize": 11, "labelColor": "black", "rowPadding": 0, "labelOffset": 3, "cornerRadius": 0}},
    "strokeDash": {"field": "s", "type": "nominal", "scale": {"domain": ["Antenna #1", "Antenna #2"], "range": [[1, 0], [6, 3]]}, "legend": {"title": null, "orient": "none", "legendX": 133, "legendY": 194, "direction": "vertical", "strokeColor": "black", "fillColor": "white", "padding": 3, "symbolType": "stroke", "symbolStrokeWidth": 2, "symbolSize": 361, "clipHeight": 11, "labelFont": "Liberation Serif, Times New Roman, serif", "labelFontSize": 11, "labelColor": "black", "rowPadding": 0, "labelOffset": 3, "cornerRadius": 0}}}},
  {"transform": [{"filter": "datum.k == 'g' && datum.r == 15"}], "mark": {"type": "text", "align": "center", "baseline": "middle"}, "encoding": {"x": {"field": "lx", "type": "quantitative", "scale": {"domain": [-2, 47]}, "axis": null}, "y": {"field": "ly", "type": "quantitative", "scale": {"domain": [-45, 45]}, "axis": null}, "text": {"field": "lbl", "type": "nominal"}}},
  {"transform": [{"filter": "datum.k == 't'"}], "mark": {"type": "text", "align": "center", "baseline": "middle"}, "encoding": {"text": {"field": "t", "type": "nominal"}}}
 ]},
{"width": 200, "height": 184.5, "title": {"text": "(d) θ =90°", "offset": 8, "dx": -3},
 "data": {"name": "d"},
 "transform": [{"filter": "datum.k != 'p' || datum.p == 'd'"}, {"calculate": "datum.k == 't' ? (datum.r == 15 ? 40.5 : datum.r + 26.5) : max(0, datum.r + 25)", "as": "rho"}, {"calculate": "(datum.k == 't' ? 173 : datum.a) * PI / 180", "as": "th"}, {"calculate": "datum.rho * cos(datum.th)", "as": "x"}, {"calculate": "datum.rho * sin(datum.th)", "as": "y"}, {"calculate": "42.3 * cos(datum.th)", "as": "lx"}, {"calculate": "42.3 * sin(datum.th)", "as": "ly"}, {"calculate": "datum.a + '°'", "as": "lbl"}],
 "encoding": {"x": {"field": "x", "type": "quantitative", "scale": {"domain": [-48.8, 48.8]}, "axis": null}, "y": {"field": "y", "type": "quantitative", "scale": {"domain": [-45, 45]}, "axis": null}},
 "layer": [
  {"transform": [{"filter": "datum.k == 'g' && datum.r < 15"}], "mark": {"type": "line", "interpolate": "cardinal-closed", "stroke": "#6e6e6e", "strokeWidth": 0.8}, "encoding": {"detail": {"field": "r", "type": "nominal"}, "order": {"field": "a", "type": "quantitative"}}},
  {"transform": [{"filter": "datum.k == 'g' && datum.r == 15"}], "mark": {"type": "rule", "stroke": "#6e6e6e", "strokeWidth": 0.8}, "encoding": {"x2": {"datum": 0}, "y2": {"datum": 0}}},
  {"transform": [{"filter": "datum.k == 'g' && datum.r == 15"}], "mark": {"type": "line", "interpolate": "cardinal-closed", "stroke": "black", "strokeWidth": 1.2}, "encoding": {"order": {"field": "a", "type": "quantitative"}}},
  {"transform": [{"filter": "datum.k == 'p'"}], "mark": {"type": "line", "interpolate": "cardinal-closed", "strokeWidth": 2}, "encoding": {"order": {"field": "a", "type": "quantitative"},
    "color": {"field": "s", "type": "nominal", "scale": {"domain": ["Antenna #1", "Antenna #2"], "range": ["#0072BD", "#FF0000"]}, "legend": {"title": null, "orient": "none", "legendX": 133, "legendY": 194, "direction": "vertical", "strokeColor": "black", "fillColor": "white", "padding": 3, "symbolType": "stroke", "symbolStrokeWidth": 2, "symbolSize": 361, "clipHeight": 11, "labelFont": "Liberation Serif, Times New Roman, serif", "labelFontSize": 11, "labelColor": "black", "rowPadding": 0, "labelOffset": 3, "cornerRadius": 0}},
    "strokeDash": {"field": "s", "type": "nominal", "scale": {"domain": ["Antenna #1", "Antenna #2"], "range": [[1, 0], [6, 3]]}, "legend": {"title": null, "orient": "none", "legendX": 133, "legendY": 194, "direction": "vertical", "strokeColor": "black", "fillColor": "white", "padding": 3, "symbolType": "stroke", "symbolStrokeWidth": 2, "symbolSize": 361, "clipHeight": 11, "labelFont": "Liberation Serif, Times New Roman, serif", "labelFontSize": 11, "labelColor": "black", "rowPadding": 0, "labelOffset": 3, "cornerRadius": 0}}}},
  {"transform": [{"filter": "datum.k == 'g' && datum.r == 15"}], "mark": {"type": "text", "align": "center", "baseline": "middle"}, "encoding": {"x": {"field": "lx", "type": "quantitative", "scale": {"domain": [-48.8, 48.8]}, "axis": null}, "y": {"field": "ly", "type": "quantitative", "scale": {"domain": [-45, 45]}, "axis": null}, "text": {"field": "lbl", "type": "nominal"}}},
  {"transform": [{"filter": "datum.k == 't'"}], "mark": {"type": "text", "align": "center", "baseline": "middle"}, "encoding": {"text": {"field": "t", "type": "nominal"}}}
 ]},
{"width": 112.1, "height": 184.5, "title": {"text": "(e) ϕ=0°", "offset": 8, "dx": -16},
 "data": {"name": "d"},
 "transform": [{"filter": "(datum.k == 'g' && datum.a <= 180) || datum.k == 't' || datum.p == 'e'"}, {"calculate": "datum.k == 't' ? (datum.r == 15 ? 39.7 : datum.r + 26.3) : max(0, datum.r + 25)", "as": "rho"}, {"calculate": "(datum.k == 't' ? 84 : datum.a) * PI / 180", "as": "th"}, {"calculate": "datum.rho * sin(datum.th)", "as": "x"}, {"calculate": "datum.rho * cos(datum.th)", "as": "y"}, {"calculate": "42.3 * sin(datum.th)", "as": "lx"}, {"calculate": "42.3 * cos(datum.th)", "as": "ly"}, {"calculate": "datum.a + '°'", "as": "lbl"}],
 "encoding": {"x": {"field": "x", "type": "quantitative", "scale": {"domain": [-2.1, 52.6]}, "axis": null}, "y": {"field": "y", "type": "quantitative", "scale": {"domain": [-45, 45]}, "axis": null}},
 "layer": [
  {"transform": [{"filter": "datum.k == 'g' && datum.r < 15"}], "mark": {"type": "line", "interpolate": "cardinal", "stroke": "#6e6e6e", "strokeWidth": 0.8}, "encoding": {"detail": {"field": "r", "type": "nominal"}, "order": {"field": "a", "type": "quantitative"}}},
  {"transform": [{"filter": "datum.k == 'g' && datum.r == 15"}], "mark": {"type": "rule", "stroke": "#6e6e6e", "strokeWidth": 0.8}, "encoding": {"x2": {"datum": 0}, "y2": {"datum": 0}}},
  {"transform": [{"filter": "datum.k == 'g' && datum.r == 15"}], "mark": {"type": "line", "interpolate": "cardinal", "stroke": "black", "strokeWidth": 1.2}, "encoding": {"order": {"field": "a", "type": "quantitative"}}},
  {"transform": [{"filter": "datum.k == 'g' && datum.r == 15 && (datum.a == 0 || datum.a == 180)"}], "mark": {"type": "line", "stroke": "black", "strokeWidth": 1.2}, "encoding": {"order": {"field": "a", "type": "quantitative"}}},
  {"transform": [{"filter": "datum.k == 'p'"}], "mark": {"type": "line", "interpolate": "cardinal", "strokeWidth": 2}, "encoding": {"order": {"field": "a", "type": "quantitative"},
    "color": {"field": "s", "type": "nominal", "scale": {"domain": ["Antenna #1", "Antenna #2"], "range": ["#0072BD", "#FF0000"]}, "legend": {"title": null, "orient": "none", "legendX": 133, "legendY": 194, "direction": "vertical", "strokeColor": "black", "fillColor": "white", "padding": 3, "symbolType": "stroke", "symbolStrokeWidth": 2, "symbolSize": 361, "clipHeight": 11, "labelFont": "Liberation Serif, Times New Roman, serif", "labelFontSize": 11, "labelColor": "black", "rowPadding": 0, "labelOffset": 3, "cornerRadius": 0}},
    "strokeDash": {"field": "s", "type": "nominal", "scale": {"domain": ["Antenna #1", "Antenna #2"], "range": [[1, 0], [6, 3]]}, "legend": {"title": null, "orient": "none", "legendX": 133, "legendY": 194, "direction": "vertical", "strokeColor": "black", "fillColor": "white", "padding": 3, "symbolType": "stroke", "symbolStrokeWidth": 2, "symbolSize": 361, "clipHeight": 11, "labelFont": "Liberation Serif, Times New Roman, serif", "labelFontSize": 11, "labelColor": "black", "rowPadding": 0, "labelOffset": 3, "cornerRadius": 0}}}},
  {"transform": [{"filter": "datum.k == 'g' && datum.r == 15"}], "mark": {"type": "text", "align": "center", "baseline": "middle"}, "encoding": {"x": {"field": "lx", "type": "quantitative", "scale": {"domain": [-2.1, 52.6]}, "axis": null}, "y": {"field": "ly", "type": "quantitative", "scale": {"domain": [-45, 45]}, "axis": null}, "text": {"field": "lbl", "type": "nominal"}}},
  {"transform": [{"filter": "datum.k == 't'"}], "mark": {"type": "text", "align": "center", "baseline": "middle"}, "encoding": {"text": {"field": "t", "type": "nominal"}}}
 ]},
{"width": 100.45, "height": 184.5, "title": {"text": "(f) ϕ=45°", "offset": 8, "dx": -18},
 "data": {"name": "d"},
 "transform": [{"filter": "(datum.k == 'g' && datum.a <= 180) || datum.k == 't' || datum.p == 'f'"}, {"calculate": "datum.k == 't' ? (datum.r == 15 ? 39.7 : datum.r + 26.3) : max(0, datum.r + 25)", "as": "rho"}, {"calculate": "(datum.k == 't' ? 84 : datum.a) * PI / 180", "as": "th"}, {"calculate": "datum.rho * sin(datum.th)", "as": "x"}, {"calculate": "datum.rho * cos(datum.th)", "as": "y"}, {"calculate": "42.3 * sin(datum.th)", "as": "lx"}, {"calculate": "42.3 * cos(datum.th)", "as": "ly"}, {"calculate": "datum.a + '°'", "as": "lbl"}],
 "encoding": {"x": {"field": "x", "type": "quantitative", "scale": {"domain": [-2, 47]}, "axis": null}, "y": {"field": "y", "type": "quantitative", "scale": {"domain": [-45, 45]}, "axis": null}},
 "layer": [
  {"transform": [{"filter": "datum.k == 'g' && datum.r < 15"}], "mark": {"type": "line", "interpolate": "cardinal", "stroke": "#6e6e6e", "strokeWidth": 0.8}, "encoding": {"detail": {"field": "r", "type": "nominal"}, "order": {"field": "a", "type": "quantitative"}}},
  {"transform": [{"filter": "datum.k == 'g' && datum.r == 15"}], "mark": {"type": "rule", "stroke": "#6e6e6e", "strokeWidth": 0.8}, "encoding": {"x2": {"datum": 0}, "y2": {"datum": 0}}},
  {"transform": [{"filter": "datum.k == 'g' && datum.r == 15"}], "mark": {"type": "line", "interpolate": "cardinal", "stroke": "black", "strokeWidth": 1.2}, "encoding": {"order": {"field": "a", "type": "quantitative"}}},
  {"transform": [{"filter": "datum.k == 'g' && datum.r == 15 && (datum.a == 0 || datum.a == 180)"}], "mark": {"type": "line", "stroke": "black", "strokeWidth": 1.2}, "encoding": {"order": {"field": "a", "type": "quantitative"}}},
  {"transform": [{"filter": "datum.k == 'p'"}], "mark": {"type": "line", "interpolate": "cardinal", "strokeWidth": 2}, "encoding": {"order": {"field": "a", "type": "quantitative"},
    "color": {"field": "s", "type": "nominal", "scale": {"domain": ["Antenna #1", "Antenna #2"], "range": ["#0072BD", "#FF0000"]}, "legend": {"title": null, "orient": "none", "legendX": 133, "legendY": 194, "direction": "vertical", "strokeColor": "black", "fillColor": "white", "padding": 3, "symbolType": "stroke", "symbolStrokeWidth": 2, "symbolSize": 361, "clipHeight": 11, "labelFont": "Liberation Serif, Times New Roman, serif", "labelFontSize": 11, "labelColor": "black", "rowPadding": 0, "labelOffset": 3, "cornerRadius": 0}},
    "strokeDash": {"field": "s", "type": "nominal", "scale": {"domain": ["Antenna #1", "Antenna #2"], "range": [[1, 0], [6, 3]]}, "legend": {"title": null, "orient": "none", "legendX": 133, "legendY": 194, "direction": "vertical", "strokeColor": "black", "fillColor": "white", "padding": 3, "symbolType": "stroke", "symbolStrokeWidth": 2, "symbolSize": 361, "clipHeight": 11, "labelFont": "Liberation Serif, Times New Roman, serif", "labelFontSize": 11, "labelColor": "black", "rowPadding": 0, "labelOffset": 3, "cornerRadius": 0}}}},
  {"transform": [{"filter": "datum.k == 'g' && datum.r == 15"}], "mark": {"type": "text", "align": "center", "baseline": "middle"}, "encoding": {"x": {"field": "lx", "type": "quantitative", "scale": {"domain": [-2, 47]}, "axis": null}, "y": {"field": "ly", "type": "quantitative", "scale": {"domain": [-45, 45]}, "axis": null}, "text": {"field": "lbl", "type": "nominal"}}},
  {"transform": [{"filter": "datum.k == 't'"}], "mark": {"type": "text", "align": "center", "baseline": "middle"}, "encoding": {"text": {"field": "t", "type": "nominal"}}}
 ]}
]
}
